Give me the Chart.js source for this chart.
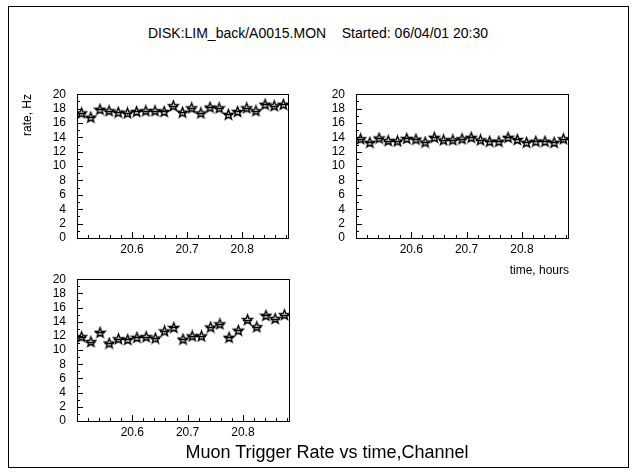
<!DOCTYPE html>
<html lang="en">

<head>
    <meta charset="UTF-8">
    <meta name="viewport" content="width=device-width, initial-scale=1.0">
    <title>Muon Trigger Rate</title>
    <script src="https://cdn.jsdelivr.net/npm/chart.js@4.4.0/dist/chart.umd.min.js"></script>
    <style>
        body { margin: 0; background: #fff; }
        #page { position: relative; width: 636px; height: 473px; font-family: "Liberation Sans", Arial, sans-serif; color: #000; }
        #frame { position: absolute; left: 8px; top: 6px; width: 619px; height: 460px; border: 1px solid #000; }
        .box { position: absolute; }
        .txt { position: absolute; white-space: pre; }
    </style>
</head>

<body>
    <div id="page">
        <div id="frame"></div>
        <canvas id="c1" class="box" width="280" height="190" style="left:17px;top:76px"></canvas>
        <canvas id="c2" class="box" width="280" height="190" style="left:296px;top:76px"></canvas>
        <canvas id="c3" class="box" width="280" height="190" style="left:17px;top:261px"></canvas>

        <div class="txt" style="left:318px;top:33px;font-size:14px;transform:translate(-50%,-50%)">DISK:LIM_back/A0015.MON    Started: 06/04/01 20:30</div>
        <div class="txt" style="left:27px;top:115px;font-size:12px;transform:translate(-50%,-50%) rotate(-90deg)">rate, Hz</div>
        <div class="txt" style="left:569px;top:270px;font-size:12px;transform:translate(-100%,-50%)">time, hours</div>
        <div class="txt" style="left:327px;top:452px;font-size:18px;transform:translate(-50%,-50%)">Muon Trigger Rate vs time,Channel</div>
    </div>

    <script>
        // bin centres, hours (one minute bins from 20:30)
        const times = [20.5083, 20.525, 20.5417, 20.5583, 20.575, 20.5917, 20.6083, 20.625,
            20.6417, 20.6583, 20.675, 20.6917, 20.7083, 20.725, 20.7417, 20.7583,
            20.775, 20.7917, 20.8083, 20.825, 20.8417, 20.8583, 20.875]

        const rate1 = [17.4, 16.8, 17.9, 17.7, 17.5, 17.4, 17.6, 17.7, 17.7, 17.6, 18.4, 17.5,
            18.1, 17.4, 18.2, 18.1, 17.2, 17.6, 18.1, 17.7, 18.6, 18.4, 18.6]
        const rate2 = [13.8, 13.3, 13.9, 13.55, 13.5, 13.85, 13.75, 13.35, 14.0, 13.65, 13.65, 13.8,
            14.0, 13.65, 13.45, 13.45, 14.0, 13.7, 13.3, 13.45, 13.45, 13.3, 13.8]
        const rate3 = [11.9, 11.2, 12.5, 11.0, 11.6, 11.5, 11.8, 11.9, 11.7, 12.7, 13.2, 11.55,
            12.0, 12.0, 13.25, 13.7, 11.8, 12.8, 14.3, 13.3, 14.9, 14.45, 15.0]

        const xTicks = [20.6, 20.7, 20.8]
        const yTicks = [0, 2, 4, 6, 8, 10, 12, 14, 16, 18, 20]

        const xMin = 20.5
        const xMax = 20.8833
        const halfBin = 1 / 120

        function makeStar(r) {
            const s = 13
            const c = document.createElement('canvas')
            c.width = s
            c.height = s
            const g = c.getContext('2d')
            g.beginPath()
            for (let k = 0; k < 10; k++) {
                const rr = k % 2 ? r * 0.42 : r
                const a = -Math.PI / 2 + k * Math.PI / 5
                const px = 6.5 + rr * Math.cos(a)
                const py = 7 + rr * Math.sin(a)
                if (k == 0) g.moveTo(px, py)
                else g.lineTo(px, py)
            }
            g.closePath()
            g.fillStyle = '#fff'
            g.fill()
            g.lineWidth = 1.4
            g.strokeStyle = '#000'
            g.stroke()
            return c
        }
        const star = makeStar(5.2)

        // frame + inward ticks, PAW style
        const framePlugin = {
            id: 'frame',
            afterDraw(chart) {
                const ctx = chart.ctx
                const a = chart.chartArea
                const xs = chart.scales.x
                const ys = chart.scales.y
                ctx.save()
                ctx.strokeStyle = '#000'
                ctx.lineWidth = 1
                ctx.strokeRect(Math.round(a.left) + 0.5, Math.round(a.top) + 0.5,
                    Math.round(a.right - a.left), Math.round(a.bottom - a.top))
                ctx.beginPath()
                for (let v = 0; v <= 20; v++) {
                    const y = Math.round(ys.getPixelForValue(v)) + 0.5
                    const len = v % 2 == 0 ? 6 : 3
                    ctx.moveTo(a.left, y)
                    ctx.lineTo(a.left + len, y)
                }
                for (let k = 25; k <= 44; k++) {
                    const x = Math.round(xs.getPixelForValue(20 + k / 50)) + 0.5
                    const len = k % 5 == 0 ? 6 : 3
                    ctx.moveTo(x, a.bottom)
                    ctx.lineTo(x, a.bottom - len)
                }
                ctx.stroke()
                ctx.restore()
            }
        }

        // horizontal bin-width bars through each point
        const binBars = {
            id: 'binBars',
            afterDatasetsDraw(chart) {
                const ctx = chart.ctx
                const xs = chart.scales.x
                const ys = chart.scales.y
                ctx.save()
                ctx.strokeStyle = '#000'
                ctx.lineWidth = 1.5
                ctx.beginPath()
                chart.data.datasets[0].data.forEach(p => {
                    const y = Math.round(ys.getPixelForValue(p.y)) + 0.5
                    ctx.moveTo(xs.getPixelForValue(p.x - halfBin), y)
                    ctx.lineTo(xs.getPixelForValue(p.x + halfBin), y)
                })
                ctx.stroke()
                ctx.restore()
            }
        }

        function makePanel(id, rates, xHeight, rightPad) {
            const font = { family: '"Liberation Sans", Arial, sans-serif', size: 12 }
            return new Chart(document.getElementById(id), {
                type: 'scatter',
                data: {
                    datasets: [{
                        data: times.map((t, i) => ({ x: t, y: rates[i] })),
                        pointStyle: star,
                        pointRadius: 6,
                        pointHoverRadius: 6,
                        showLine: false
                    }]
                },
                options: {
                    responsive: false,
                    animation: false,
                    events: [],
                    layout: { padding: { top: 10, right: rightPad, left: 0, bottom: 0 } },
                    plugins: { legend: { display: false }, tooltip: { enabled: false } },
                    scales: {
                        x: {
                            type: 'linear',
                            min: xMin,
                            max: xMax,
                            grid: { display: false, drawTicks: false },
                            border: { display: false },
                            afterBuildTicks: s => { s.ticks = xTicks.map(v => ({ value: v })) },
                            afterFit: s => { s.height = xHeight },
                            ticks: {
                                color: '#000',
                                font: font,
                                padding: 4,
                                maxRotation: 0,
                                autoSkip: false,
                                callback: v => v.toFixed(1)
                            }
                        },
                        y: {
                            min: 0,
                            max: 20,
                            grid: { display: false, drawTicks: false },
                            border: { display: false },
                            afterBuildTicks: s => { s.ticks = yTicks.map(v => ({ value: v })) },
                            afterFit: s => { s.width = 60 },
                            ticks: {
                                color: '#000',
                                font: font,
                                padding: 11,
                                autoSkip: false
                            }
                        }
                    }
                },
                plugins: [binBars, framePlugin]
            })
        }

        makePanel('c1', rate1, 28, 9)
        makePanel('c2', rate2, 28, 8)
        makePanel('c3', rate3, 30, 8)
    </script>

</body>

</html>
